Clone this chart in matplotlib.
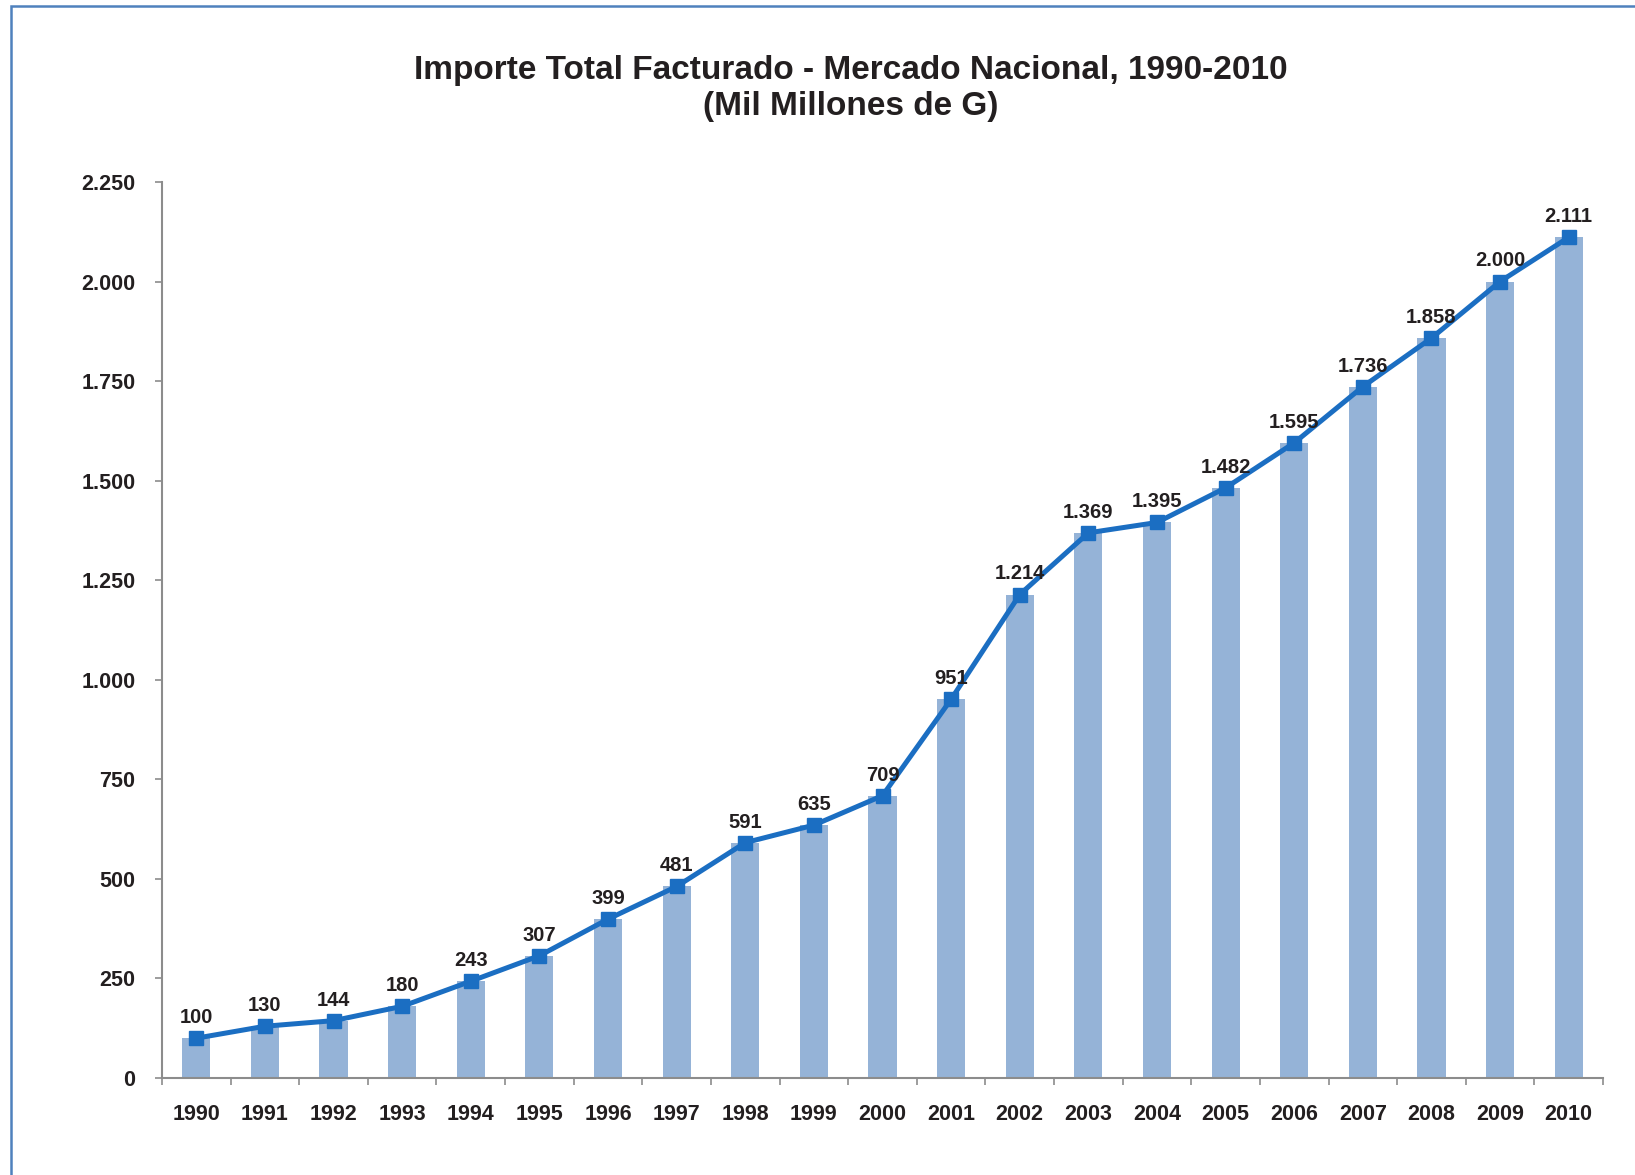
import matplotlib.pyplot as plt
import matplotlib.patches as patches
import numpy as np

# datos (miles de millones de G)
years = [str(y) for y in range(1990, 2011)]
values = [100, 130, 144, 180, 243, 307, 399, 481, 591, 635, 709,
          951, 1214, 1369, 1395, 1482, 1595, 1736, 1858, 2000, 2111]
y_ticks = [0, 250, 500, 750, 1000, 1250, 1500, 1750, 2000, 2250]

bar_color = "#95B3D7"
line_color = "#1B6EC2"
text_color = "#231F20"
axis_color = "#8C8C8C"


def fmt(v):
    return f"{v:,}".replace(",", ".")


plt.rcParams['font.family'] = ['Liberation Sans', 'DejaVu Sans']

fig = plt.figure(figsize=(16.35, 11.75), dpi=100)
ax = fig.add_axes([162/1635, 1 - 1078/1175, (1603-162)/1635, (1078-182)/1175])

x = np.arange(len(years))
ax.bar(x, values, width=0.41, color=bar_color, zorder=2)
ax.plot(x, values, color=line_color, linewidth=3.6, marker="s", markersize=10, zorder=3)

for xi, v in zip(x, values):
    ax.annotate(fmt(v), (xi, v), xytext=(0, 8), textcoords="offset points",
                ha="center", va="bottom", fontsize=14.5, fontweight="bold",
                color=text_color, zorder=4)

ax.set_xlim(-0.5, len(years) - 0.5)
ax.set_ylim(0, 2250)
ax.set_yticks(y_ticks)
ax.set_yticklabels([fmt(t) for t in y_ticks])
ax.set_xticks(x)
ax.set_xticklabels(years)
ax.set_xticks(np.arange(-0.5, len(years), 1.0), minor=True)
ax.tick_params(axis="x", which="major", length=0, pad=19)
ax.tick_params(axis="x", which="minor", length=5, color=axis_color, width=1.2)
ax.tick_params(axis="y", length=5, color=axis_color, width=1.2, pad=14)
for lab in ax.get_xticklabels() + ax.get_yticklabels():
    lab.set_fontsize(15.5)
    lab.set_fontweight("bold")
    lab.set_color(text_color)

for s in ["top", "right"]:
    ax.spines[s].set_visible(False)
for s in ["left", "bottom"]:
    ax.spines[s].set_color(axis_color)
    ax.spines[s].set_linewidth(1.5)

fig.text(851/1635, 1 - 70/1175, "Importe Total Facturado - Mercado Nacional, 1990-2010",
         ha="center", va="center", fontsize=24, fontweight="bold", color=text_color)
fig.text(851/1635, 1 - 106/1175, "(Mil Millones de G)",
         ha="center", va="center", fontsize=24, fontweight="bold", color=text_color)

# marco del gráfico
frame = patches.Rectangle((11/1635, -0.1), 2, 1.1 - 6/1175, transform=fig.transFigure,
                          fill=False, edgecolor="#4F81BD", linewidth=1.8, clip_on=False)
fig.patches.append(frame)

fig.savefig("out.png", dpi=100)
